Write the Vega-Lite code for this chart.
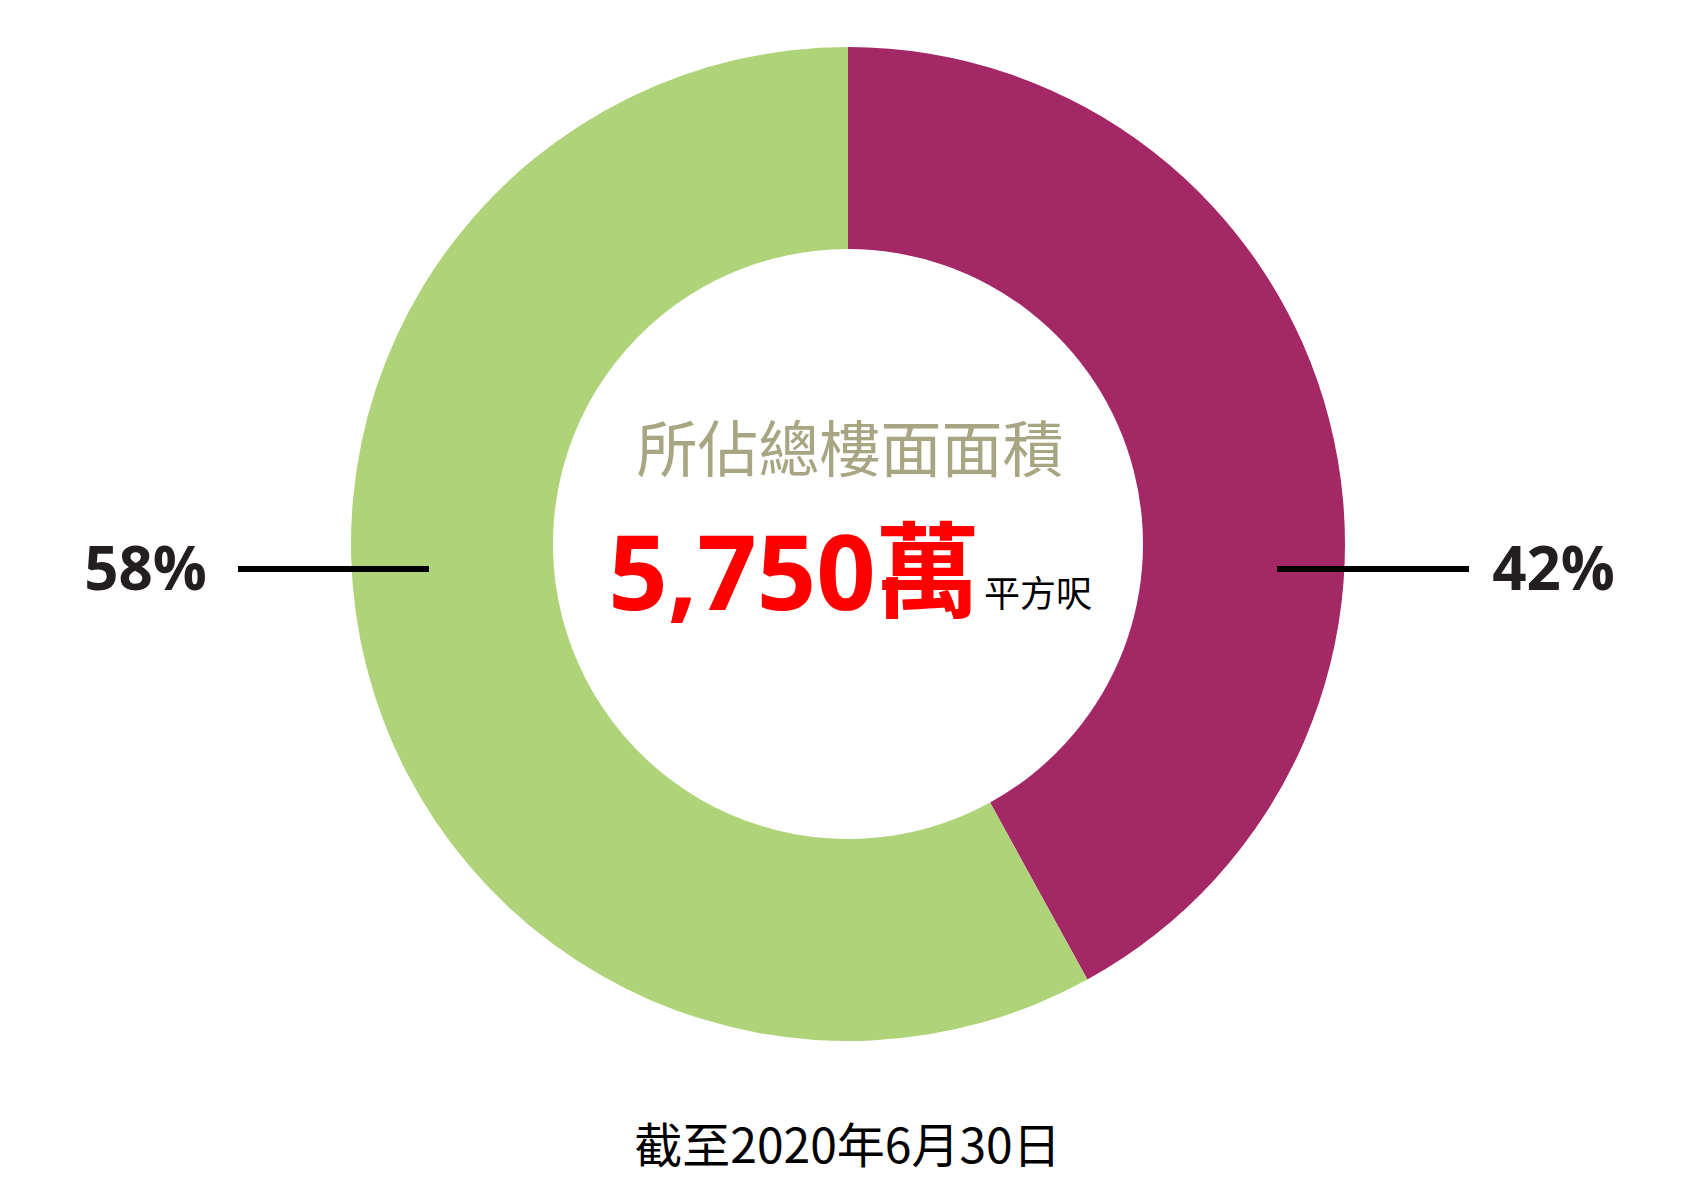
{
  "$schema": "https://vega.github.io/schema/vega-lite/v6.json",
  "width": 1700,
  "height": 1200,
  "autosize": {"type": "none"},
  "padding": 0,
  "background": "white",
  "config": {"view": {"stroke": null}, "axis": {"disable": true}},
  "datasets": {
    "floor": [
      {"group": "A", "share": 0.42},
      {"group": "B", "share": 0.58}
    ]
  },
  "data": {"name": "floor"},
  "layer": [
    {
      "mark": {"type": "arc", "innerRadius": 295, "outerRadius": 497, "stroke": null},
      "encoding": {
        "theta": {"field": "share", "type": "quantitative", "stack": true},
        "order": {"field": "group", "type": "ordinal", "sort": "ascending"},
        "color": {
          "field": "group",
          "type": "nominal",
          "scale": {"domain": ["A", "B"], "range": ["#a42766", "#afd378"]},
          "legend": null
        },
        "x": {"datum": 0, "type": "quantitative", "scale": {"domain": [-1.7062, 1.7143], "nice": false, "zero": false}},
        "y": {"datum": 0, "type": "quantitative", "scale": {"domain": [-1.3199, 1.0946], "nice": false, "zero": false}}
      }
    },
    {
      "data": {"values": [{}]},
      "mark": {"type": "rule", "color": "#000000", "strokeWidth": 6},
      "encoding": {
        "x": {"datum": -1.2274, "type": "quantitative", "scale": {"domain": [-1.7062, 1.7143], "nice": false, "zero": false}},
        "x2": {"datum": -0.8431},
        "y": {"datum": -0.0503, "type": "quantitative", "scale": {"domain": [-1.3199, 1.0946], "nice": false, "zero": false}}
      }
    },
    {
      "data": {"values": [{}]},
      "mark": {"type": "rule", "color": "#000000", "strokeWidth": 6},
      "encoding": {
        "x": {"datum": 0.8632, "type": "quantitative", "scale": {"domain": [-1.7062, 1.7143], "nice": false, "zero": false}},
        "x2": {"datum": 1.2495},
        "y": {"datum": -0.0503, "type": "quantitative", "scale": {"domain": [-1.3199, 1.0946], "nice": false, "zero": false}}
      }
    },
    {
      "transform": [{"filter": "datum.group === 'B'"}],
      "mark": {"type": "text", "font": "Open Sans", "fontWeight": "bold", "fontSize": 60, "color": "#231f20", "align": "center", "baseline": "alphabetic"},
      "encoding": {
        "text": {"field": "share", "type": "quantitative", "format": ".0%"},
        "x": {"datum": -1.4135, "type": "quantitative", "scale": {"domain": [-1.7062, 1.7143], "nice": false, "zero": false}},
        "y": {"datum": -0.0926, "type": "quantitative", "scale": {"domain": [-1.3199, 1.0946], "nice": false, "zero": false}}
      }
    },
    {
      "transform": [{"filter": "datum.group === 'A'"}],
      "mark": {"type": "text", "font": "Open Sans", "fontWeight": "bold", "fontSize": 60, "color": "#231f20", "align": "center", "baseline": "alphabetic"},
      "encoding": {
        "text": {"field": "share", "type": "quantitative", "format": ".0%"},
        "x": {"datum": 1.4195, "type": "quantitative", "scale": {"domain": [-1.7062, 1.7143], "nice": false, "zero": false}},
        "y": {"datum": -0.0926, "type": "quantitative", "scale": {"domain": [-1.3199, 1.0946], "nice": false, "zero": false}}
      }
    },
    {
      "data": {"values": [{}]},
      "mark": {"type": "text", "text": "所佔總樓面面積", "font": "Noto Sans CJK TC", "fontSize": 61, "color": "#a7a582", "align": "center", "baseline": "alphabetic"},
      "encoding": {
        "x": {"datum": 0.004, "type": "quantitative", "scale": {"domain": [-1.7062, 1.7143], "nice": false, "zero": false}},
        "y": {"datum": 0.1449, "type": "quantitative", "scale": {"domain": [-1.3199, 1.0946], "nice": false, "zero": false}}
      }
    },
    {
      "data": {"values": [{}]},
      "mark": {"type": "text", "text": "5,750萬", "font": "Open Sans, Noto Sans CJK TC", "fontWeight": "bold", "fontSize": 104, "color": "#ff0000", "align": "center", "baseline": "alphabetic"},
      "encoding": {
        "x": {"datum": -0.1087, "type": "quantitative", "scale": {"domain": [-1.7062, 1.7143], "nice": false, "zero": false}},
        "y": {"datum": -0.1328, "type": "quantitative", "scale": {"domain": [-1.3199, 1.0946], "nice": false, "zero": false}}
      }
    },
    {
      "data": {"values": [{}]},
      "mark": {"type": "text", "text": "平方呎", "font": "Noto Sans CJK TC", "fontSize": 36, "color": "#000000", "align": "center", "baseline": "alphabetic"},
      "encoding": {
        "x": {"datum": 0.3823, "type": "quantitative", "scale": {"domain": [-1.7062, 1.7143], "nice": false, "zero": false}},
        "y": {"datum": -0.1268, "type": "quantitative", "scale": {"domain": [-1.3199, 1.0946], "nice": false, "zero": false}}
      }
    },
    {
      "data": {"values": [{}]},
      "mark": {"type": "text", "text": "截至2020年6月30日", "font": "Noto Sans CJK TC", "fontSize": 48, "color": "#000000", "align": "center", "baseline": "alphabetic"},
      "encoding": {
        "x": {"datum": -0.001, "type": "quantitative", "scale": {"domain": [-1.7062, 1.7143], "nice": false, "zero": false}},
        "y": {"datum": -1.2455, "type": "quantitative", "scale": {"domain": [-1.3199, 1.0946], "nice": false, "zero": false}}
      }
    }
  ]
}
